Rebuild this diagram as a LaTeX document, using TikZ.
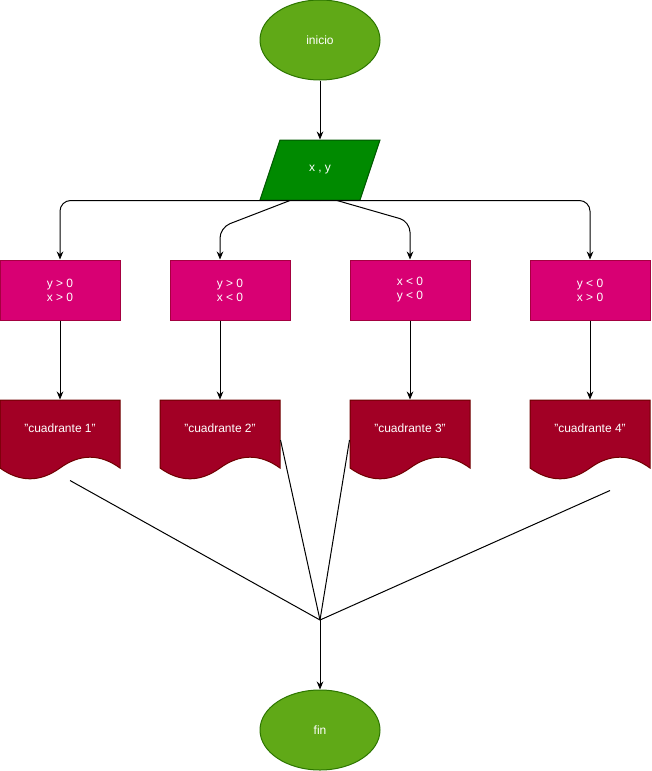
\documentclass[tikz,border=0pt]{standalone}
\usepackage{fontspec}
\setmainfont{Liberation Sans}
\usepackage{tikz}
\usetikzlibrary{positioning}
\usetikzlibrary{calc}
\usetikzlibrary{shapes.geometric}
\usetikzlibrary{arrows.meta}

\definecolor{verdeclaro}{HTML}{60A917}
\definecolor{bordeclaro}{HTML}{2D7600}
\definecolor{verdeoscuro}{HTML}{008A00}
\definecolor{bordeoscuro}{HTML}{005700}
\definecolor{magenta}{HTML}{D80073}
\definecolor{bordemagenta}{HTML}{A50040}
\definecolor{carmin}{HTML}{A20025}
\definecolor{bordecarmin}{HTML}{6F0000}

\begin{document}
\begin{tikzpicture}[x=0.75pt,y=-0.75pt,line width=0.75pt,
    texto/.style={text=white,font=\fontsize{9}{10.5}\selectfont,align=center},
    terminal/.style={texto,ellipse,draw=bordeclaro,fill=verdeclaro,minimum width=90pt,minimum height=60pt},
    condicion/.style={texto,rectangle,draw=bordemagenta,fill=magenta,minimum width=90pt,minimum height=45pt},
    caja/.style={rectangle,minimum width=90pt,minimum height=60pt,inner sep=0pt},
    flecha/.style={-{Stealth[length=6pt,width=5pt]}}]
    \useasboundingbox (0,0) rectangle (651,771);

    % inicio y entrada
    \node[terminal] (inicio) at (320,40) {inicio};
    \filldraw[draw=bordeoscuro,fill=verdeoscuro] (280,140) -- (380,140) -- (360,200) -- (260,200) -- cycle;
    \node[caja,texto,minimum height=45pt] (entrada) at (320,170) {x , y};
    \draw[flecha] (inicio) -- (entrada);

    % condiciones
    \node[condicion] (cond1) at (60,290) {y > 0\\x > 0};
    \node[condicion] (cond2) at (230,290) {y > 0\\x < 0};
    \node[condicion] (cond3) at (410,290) {x < 0\\y < 0};
    \node[condicion] (cond4) at (590,290) {y < 0\\x > 0};

    \draw[flecha,rounded corners=8] (entrada.south) -| (cond1);
    \draw[flecha,rounded corners=8] (entrada.south) -| (cond4);
    \draw[flecha,rounded corners=8] ($(entrada.south)+(-30,0)$) -- ($(cond2.north)+(-10,-32)$) -- ($(cond2.north)+(-10,0)$);
    \draw[flecha,rounded corners=8] ($(entrada.south)+(17,0)$) -- ($(cond3.north)+(0,-38)$) -- (cond3);

    % salidas
    \foreach \n/\x/\t in {1/0/{"cuadrante 1"},2/160/{"cuadrante 2"},3/350/{"cuadrante 3"},4/530/{"cuadrante 4"}}{
        \filldraw[draw=bordecarmin,fill=carmin,shift={(\x,400)}] (0,0) -- (120,0) -- (120,68)
            .. controls (100,53.6) and (80,53.6) .. (60,68)
            .. controls (40,82.4) and (20,82.4) .. (0,68) -- cycle;
        \node[caja] (doc\n) at (\x+60,440) {};
        \node[texto] (t\n) at (\x+60,428) {\t};
    }

    \draw[flecha] (cond1) -- (doc1);
    \draw[flecha] (cond2.south -| doc2) -- (doc2.north);
    \draw[flecha] (cond3) -- (doc3);
    \draw[flecha] (cond4) -- (doc4);

    % fin
    \coordinate (union) at (320,620);
    \node[terminal] (fin) at (320,730) {fin};
    \draw ($(doc1.south)+(10,0)$) -- (union);
    \draw (doc2.east) -- (union);
    \draw (doc3.west) -- (union);
    \draw ($(doc4.south)+(20,10)$) -- (union);
    \draw[flecha] (union) -- (fin);
\end{tikzpicture}
\end{document}
